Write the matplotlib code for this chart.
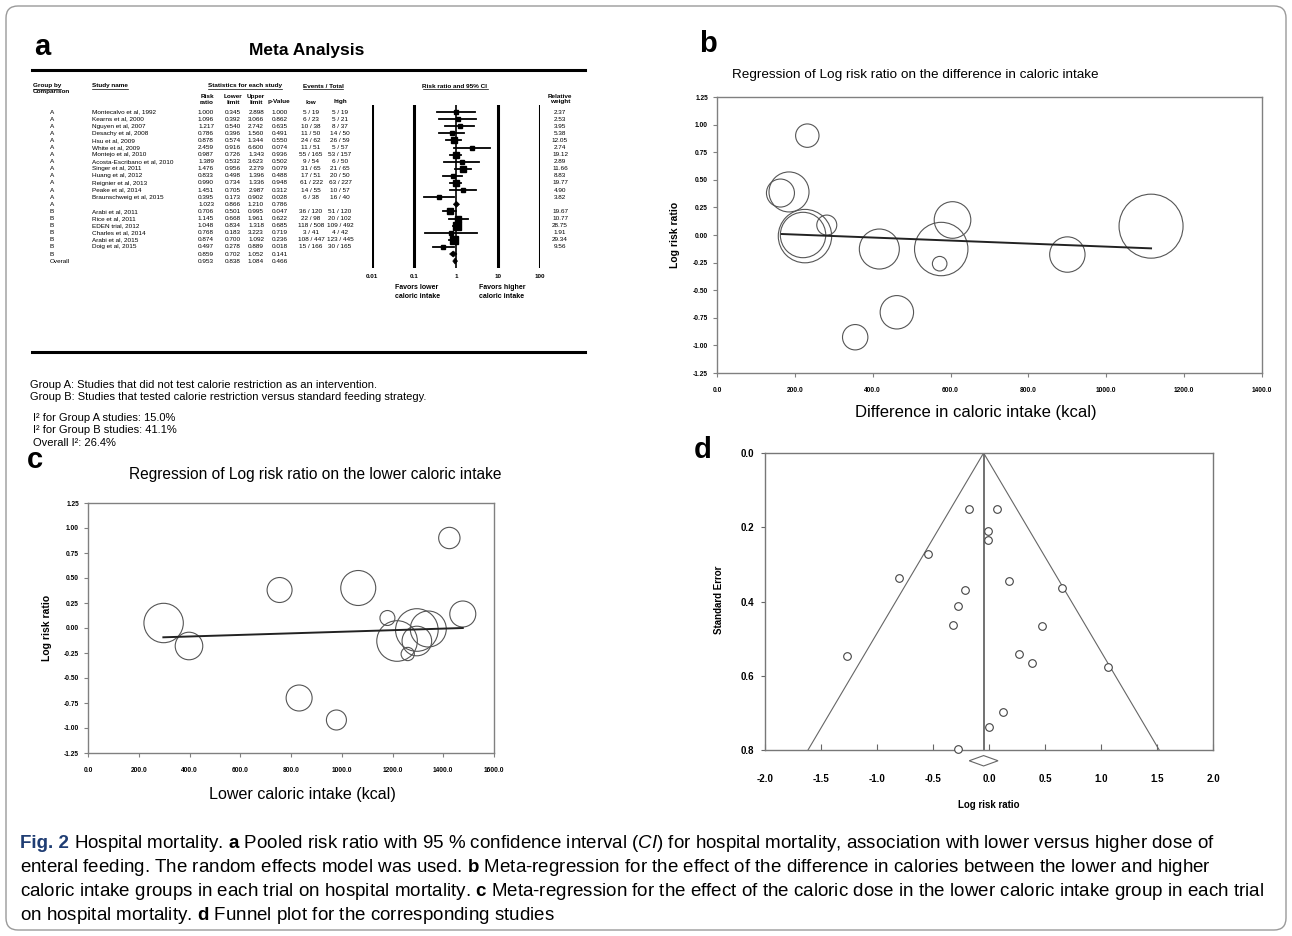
import numpy as np
import matplotlib
matplotlib.use('Agg')
import matplotlib.pyplot as plt
from matplotlib.patches import FancyBboxPatch, Polygon
from matplotlib.ticker import NullLocator

plt.rcParams['font.family'] = ['Liberation Sans', 'DejaVu Sans']
plt.rcParams['mathtext.fontset'] = 'custom'
plt.rcParams['mathtext.rm'] = 'Liberation Sans'
plt.rcParams['mathtext.it'] = 'Liberation Sans:italic'
plt.rcParams['mathtext.bf'] = 'Liberation Sans:bold'

W, H = 1292, 936

# ---------------- panel a: meta analysis table ----------------
groups = ['A'] * 14 + ['B'] * 7 + ['Overall']
studies = ['Montecalvo et al, 1992', 'Kearns et al, 2000', 'Nguyen et al, 2007',
           'Desachy et al, 2008', 'Hsu et al, 2009', 'White et al, 2009',
           'Montejo et al, 2010', 'Acosta-Escribano et al, 2010', 'Singer et al, 2011',
           'Huang et al, 2012', 'Reignier et al, 2013', 'Peake et al, 2014',
           'Braunschweig et al, 2015', '',
           'Arabi et al, 2011', 'Rice et al, 2011', 'EDEN trial, 2012',
           'Charles et al, 2014', 'Arabi et al, 2015', 'Doig et al, 2015', '', '']
risk_ratio = [1.000, 1.096, 1.217, 0.786, 0.878, 2.459, 0.987, 1.389, 1.476, 0.833, 0.990,
              1.451, 0.395, 1.023, 0.706, 1.145, 1.048, 0.768, 0.874, 0.497, 0.859, 0.953]
lower_limit = [0.345, 0.392, 0.540, 0.396, 0.574, 0.916, 0.726, 0.532, 0.956, 0.498, 0.734,
               0.705, 0.173, 0.866, 0.501, 0.668, 0.834, 0.183, 0.700, 0.278, 0.702, 0.838]
upper_limit = [2.898, 3.066, 2.742, 1.560, 1.344, 6.600, 1.343, 3.623, 2.279, 1.396, 1.336,
               2.987, 0.902, 1.210, 0.995, 1.961, 1.318, 3.223, 1.092, 0.889, 1.052, 1.084]
p_value = [1.000, 0.862, 0.635, 0.491, 0.550, 0.074, 0.936, 0.502, 0.079, 0.488, 0.948,
           0.312, 0.028, 0.786, 0.047, 0.622, 0.685, 0.719, 0.236, 0.018, 0.141, 0.466]
events_low = ['5 / 19', '6 / 23', '10 / 38', '11 / 50', '24 / 62', '11 / 51', '55 / 165',
              '9 / 54', '31 / 65', '17 / 51', '61 / 222', '14 / 55', '6 / 38', '',
              '36 / 120', '22 / 98', '118 / 508', '3 / 41', '108 / 447', '15 / 166', '', '']
events_high = ['5 / 19', '5 / 21', '8 / 37', '14 / 50', '26 / 59', '5 / 57', '53 / 157',
               '6 / 50', '21 / 65', '20 / 50', '63 / 227', '10 / 57', '16 / 40', '',
               '51 / 120', '20 / 102', '109 / 492', '4 / 42', '123 / 445', '30 / 165', '', '']
rel_weight = [2.37, 2.53, 3.95, 5.38, 12.05, 2.74, 19.12, 2.89, 11.66, 8.83, 19.77, 4.90,
              3.82, None, 19.67, 10.77, 28.75, 1.91, 29.34, 9.56, None, None]
forest_ticks = [0.01, 0.1, 1, 10, 100]

# ---------------- panel b: regression on difference in intake ----------------
diff_kcal = [232, 185, 163, 226, 221, 282, 417, 576, 605, 572, 900, 462, 355, 1115]
diff_lrr = [0.90, 0.39, 0.38, -0.01, 0.00, 0.09, -0.127, -0.127, 0.136, -0.26, -0.177,
            -0.70, -0.926, 0.08]
diff_w = [13.7, 40.0, 19.6, 71.3, 51.5, 10.0, 40.0, 71.3, 33.5, 5.3, 31.3, 27.9, 16.1, 102.4]
diff_fit_x = [166, 1115]
diff_fit_y = [0.009, -0.121]

# ---------------- panel c: regression on lower intake ----------------
low_kcal = [298, 398, 755, 1065, 1424, 1180, 1218, 1296, 1341, 1296, 1260, 1477, 832, 979]
low_lrr = [0.05, -0.18, 0.38, 0.40, 0.90, 0.10, -0.13, -0.02, -0.01, -0.13, -0.26, 0.14,
           -0.70, -0.92]
low_w = [38.8, 19.0, 15.6, 30.6, 11.4, 5.6, 41.2, 45.4, 32.4, 21.9, 4.4, 16.9, 16.9, 10.0]
low_fit_x = [297, 1477]
low_fit_y = [-0.093, 0.0]

# ---------------- panel d: funnel plot ----------------
funnel_lrr = [-0.176, 0.069, -0.007, -0.013, -0.542, -0.804, -0.216, 0.176, 0.650, -0.281,
              -0.317, 0.477, -1.265, 0.265, 0.386, 1.059, 0.127, 0.003, -0.281]
funnel_se = [0.152, 0.150, 0.210, 0.235, 0.272, 0.336, 0.369, 0.346, 0.363, 0.412, 0.463,
             0.465, 0.548, 0.541, 0.566, 0.577, 0.698, 0.737, 0.798]
pooled_rr, pooled_lo, pooled_hi = 0.953, 0.838, 1.084

fig = plt.figure(figsize=(W / 100, H / 100), dpi=100)
ax0 = fig.add_axes([0, 0, 1, 1])
ax0.set_xlim(0, W)
ax0.set_ylim(H, 0)
ax0.axis('off')


def px_axes(x0, y0, x1, y1):
    return fig.add_axes([x0 / W, 1 - y1 / H, (x1 - x0) / W, (y1 - y0) / H])


renderer = fig.canvas.get_renderer()


def text_w(t):
    return t.get_window_extent(renderer=renderer).width


# outer frame
ax0.add_patch(FancyBboxPatch((6, 6), W - 12, H - 12, boxstyle='round,pad=0,rounding_size=12',
                             ec='#9a9a9a', fc='none', lw=1.0))

# panel letters
for lab, (lx, ly) in zip('abcd', [(42, 47), (708, 44), (35, 460), (703, 450)]):
    ax0.text(lx, ly, lab, fontsize=21, fontweight='bold', ha='center', va='center')

# ---- panel a ----
ax0.text(307, 50, 'Meta Analysis', fontsize=12.5, fontweight='bold', ha='center', va='center')
ax0.plot([32, 585], [70, 70], color='k', lw=2.2)
ax0.plot([32, 585], [352, 352], color='k', lw=2.2)

fs = 4.6


def underlined(x, y, s, ha):
    t = ax0.text(x, y, s, fontsize=fs, fontweight='bold', ha=ha, va='center')
    w = text_w(t)
    x0 = x if ha == 'left' else x - w / 2
    ax0.plot([x0, x0 + w], [y + 3.2, y + 3.2], color='k', lw=0.5)


underlined(33, 86, 'Group by', 'left')
ax0.text(33, 91.5, 'Comparison', fontsize=fs, fontweight='bold', ha='left', va='center')
underlined(92, 86, 'Study name', 'left')
underlined(245, 86, 'Statistics for each study', 'center')
underlined(323, 86, 'Events / Total', 'center')
underlined(455, 86, 'Risk ratio and 95% CI', 'center')
for cx, l1, l2 in [(207, 'Risk', 'ratio'), (233, 'Lower', 'limit'), (256, 'Upper', 'limit'),
                   (279, '', 'p-Value'), (311, '', 'low'), (340, '', 'high'),
                   (560, 'Relative', 'weight')]:
    ax0.text(cx, 96.5, l1, fontsize=fs, fontweight='bold', ha='center', va='center')
    ax0.text(cx, 102, l2, fontsize=fs, fontweight='bold', ha='center', va='center')

row_y = 112 + np.arange(len(studies)) * 7.1
for i, y in enumerate(row_y):
    ax0.text(50, y, groups[i], fontsize=fs, ha='left', va='center')
    ax0.text(92, y, studies[i], fontsize=fs, ha='left', va='center')
    ax0.text(214, y, f'{risk_ratio[i]:.3f}', fontsize=fs, ha='right', va='center')
    ax0.text(241, y, f'{lower_limit[i]:.3f}', fontsize=fs, ha='right', va='center')
    ax0.text(264, y, f'{upper_limit[i]:.3f}', fontsize=fs, ha='right', va='center')
    ax0.text(288, y, f'{p_value[i]:.3f}', fontsize=fs, ha='right', va='center')
    ax0.text(311, y, events_low[i], fontsize=fs, ha='center', va='center')
    ax0.text(340, y, events_high[i], fontsize=fs, ha='center', va='center')
    if rel_weight[i] is not None:
        ax0.text(560, y, f'{rel_weight[i]:.2f}', fontsize=fs, ha='center', va='center')

fa = px_axes(372, row_y[0] - 7.1, 540, row_y[-1] + 7.1)
fa.set_xscale('log')
fa.set_xlim(0.01, 100)
fa.set_ylim(len(studies), -1)
for v in forest_ticks:
    fa.axvline(v, color='k', lw=1.2 if v == 1 else 2.2)
for i in range(len(studies)):
    if studies[i]:
        fa.plot([lower_limit[i], upper_limit[i]], [i, i], color='k', lw=1.3)
        fa.plot(risk_ratio[i], i, 's', color='k', ms=1.2 + 0.75 * np.sqrt(rel_weight[i]))
    else:
        fa.add_patch(Polygon([(lower_limit[i], i), (risk_ratio[i], i - 0.42),
                              (upper_limit[i], i), (risk_ratio[i], i + 0.42)],
                             closed=True, fc='k', ec='k', lw=0.5))
fa.set_xticks(forest_ticks, ['0.01', '0.1', '1', '10', '100'], fontsize=4.5, fontweight='bold')
fa.xaxis.set_minor_locator(NullLocator())
fa.tick_params(axis='x', length=0, pad=4)
fa.set_yticks([])
for s in fa.spines.values():
    s.set_visible(False)
ax0.text(395, 292, 'Favors lower\ncaloric intake', fontsize=5, fontweight='bold',
         ha='left', va='center', linespacing=1.3)
ax0.text(479, 292, 'Favors higher\ncaloric intake', fontsize=5, fontweight='bold',
         ha='left', va='center', linespacing=1.3)

nfs = 8
ax0.text(30, 385, 'Group A: Studies that did not test calorie restriction as an intervention.',
         fontsize=nfs, va='center')
ax0.text(30, 397, 'Group B: Studies that tested calorie restriction versus standard feeding strategy.',
         fontsize=nfs, va='center')
ax0.text(33, 418, 'I² for Group A studies: 15.0%', fontsize=nfs, va='center')
ax0.text(33, 430, 'I² for Group B studies: 41.1%', fontsize=nfs, va='center')
ax0.text(33, 443, 'Overall I²: 26.4%', fontsize=nfs, va='center')


# ---- panels b and c ----
def bubble_panel(ax, xs, ys, ws, fit_x, fit_y, xmax):
    r_px = np.sqrt(np.array(ws) * 10)
    ax.scatter(xs, ys, s=(2 * r_px * 0.72) ** 2, facecolors='none', edgecolors='#555555',
               linewidths=0.8, zorder=3)
    ax.plot(fit_x, fit_y, color='#222222', lw=1.4, zorder=4)
    ax.set_xlim(0, xmax)
    ax.set_ylim(-1.25, 1.25)
    xt = np.arange(0, xmax + 1, 200)
    yt = np.arange(-1.25, 1.26, 0.25)
    ax.set_xticks(xt, [f'{v:.1f}' for v in xt], fontsize=4.8, fontweight='bold')
    ax.set_yticks(yt, [f'{v:.2f}' for v in yt], fontsize=4.8, fontweight='bold')
    ax.tick_params(axis='x', direction='out', length=3, color='#808080', pad=7)
    ax.tick_params(axis='y', direction='out', length=3, color='#808080', pad=3.5)
    for s in ax.spines.values():
        s.set_color('#808080')
        s.set_linewidth(1.0)


axb = px_axes(717, 97, 1262, 373)
bubble_panel(axb, diff_kcal, diff_lrr, diff_w, diff_fit_x, diff_fit_y, 1400)
ax0.text(915, 75, 'Regression of Log risk ratio on the difference in caloric intake',
         fontsize=9.7, ha='center', va='center')
ax0.text(976, 413, 'Difference in caloric intake (kcal)', fontsize=12, ha='center', va='center')
ax0.text(675, 235, 'Log risk ratio', fontsize=7.5, fontweight='bold', rotation=90,
         ha='center', va='center')

axc = px_axes(88, 503, 494, 753)
bubble_panel(axc, low_kcal, low_lrr, low_w, low_fit_x, low_fit_y, 1600)
ax0.text(315, 475, 'Regression of Log risk ratio on the lower caloric intake',
         fontsize=11.2, ha='center', va='center')
ax0.text(302, 795, 'Lower caloric intake (kcal)', fontsize=11.6, ha='center', va='center')
ax0.text(47, 628, 'Log risk ratio', fontsize=7.5, fontweight='bold', rotation=90,
         ha='center', va='center')

# ---- panel d ----
axd = px_axes(765, 453, 1213, 750)
center = np.log(pooled_rr)
axd.plot([center, center], [0, 0.8], color='#666666', lw=1.3)
axd.plot([center - 1.96 * 0.8, center, center + 1.96 * 0.8], [0.8, 0, 0.8],
         color='#666666', lw=0.8)
axd.plot(funnel_lrr, funnel_se, 'o', ms=5.5, mfc='white', mec='#444444', mew=0.8,
         clip_on=False, zorder=4)
lo, hi = np.log(pooled_lo), np.log(pooled_hi)
axd.add_patch(Polygon([(lo, 0.829), (center, 0.815), (hi, 0.829), (center, 0.843)],
                      closed=True, fc='white', ec='#666666', lw=0.8, clip_on=False))
axd.set_xlim(-2, 2)
axd.set_ylim(0.8, 0.0)
dx = np.arange(-2, 2.01, 0.5)
dy = np.arange(0, 0.81, 0.2)
axd.set_xticks(dx, [f'{v:.1f}' for v in dx], fontsize=7, fontweight='bold')
axd.set_yticks(dy, [f'{v:.1f}' for v in dy], fontsize=7, fontweight='bold')
axd.tick_params(axis='x', direction='in', length=4, color='#666666', pad=17)
axd.tick_params(axis='y', direction='out', length=3, color='#666666', pad=5)
for s in axd.spines.values():
    s.set_color('#777777')
    s.set_linewidth(1.0)
ax0.text(989, 805, 'Log risk ratio', fontsize=7, fontweight='bold', ha='center', va='center')
ax0.text(719, 600, 'Standard Error', fontsize=7, fontweight='bold', rotation=90,
         ha='center', va='center')

# ---- caption ----
fig_label = 'Fig. 2'
caption_lines = [
    r'Hospital mortality. $\mathbf{a}$ Pooled risk ratio with 95 % confidence interval '
    r'($\mathit{CI}$) for hospital mortality, association with lower versus higher dose of',
    r'enteral feeding. The random effects model was used. $\mathbf{b}$ Meta-regression for the '
    r'effect of the difference in calories between the lower and higher',
    r'caloric intake groups in each trial on hospital mortality. $\mathbf{c}$ Meta-regression for '
    r'the effect of the caloric dose in the lower caloric intake group in each trial',
    r'on hospital mortality. $\mathbf{d}$ Funnel plot for the corresponding studies',
]

# fit the caption size so that the widest line stays inside the frame
probe_fs = 10.0
space = 0.278 * probe_fs * 100 / 72
t1 = ax0.text(0, 0, fig_label, fontsize=probe_fs, fontweight='bold')
widths = []
for li, line in enumerate(caption_lines):
    t2 = ax0.text(0, 0, line, fontsize=probe_fs)
    w = text_w(t2) + (text_w(t1) + space if li == 0 else 0)
    widths.append(w)
    t2.remove()
t1.remove()
cfs = probe_fs * (1262 - 20) / max(widths)

lab = ax0.text(20, 843, fig_label, fontsize=cfs, fontweight='bold', color='#1f3d73',
               ha='left', va='center')
lab_end = 20 + text_w(lab) + 0.278 * cfs * 100 / 72
for li, line in enumerate(caption_lines):
    x = lab_end if li == 0 else 20
    ax0.text(x, 843 + li * 24, line, fontsize=cfs, ha='left', va='center')

fig.savefig('out.png', dpi=100)
